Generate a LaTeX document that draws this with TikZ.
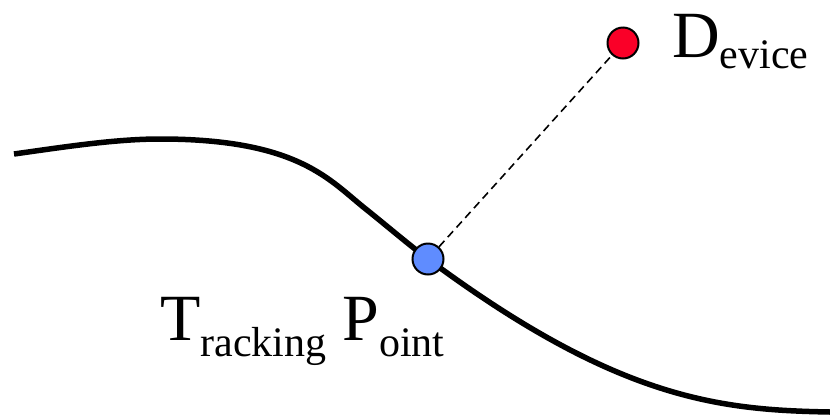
\documentclass[tikz,border=0pt]{standalone}
\usepackage{fontspec}
\setmainfont{Liberation Serif}
\definecolor{devred}{RGB}{250,0,40}
\definecolor{trkblue}{RGB}{95,140,255}
\newcommand{\mainfs}[1]{{\fontsize{66}{66}\selectfont #1}}
\newcommand{\subfs}[2]{\raisebox{-#1}{\fontsize{42}{42}\selectfont #2}}
\tikzset{
  dot/.style={circle, draw=black, line width=2pt, minimum size=31pt, inner sep=0pt},
  curveline/.style={line width=5.5pt},
  link/.style={line width=1.6pt, dash pattern=on 8pt off 5pt},
  lbl/.style={inner sep=0pt, anchor=base west}
}
\begin{document}
\begin{tikzpicture}[x=1pt,y=-1pt]
\useasboundingbox (0,0) rectangle (830,416);
\coordinate (c0) at (14,154);
\coordinate (c1) at (160,139);
\coordinate (c2) at (367,210);
\coordinate (tp) at (428,259);
\coordinate (c4) at (830,412);
\draw[curveline] (c0) .. controls (64,147) and (115,139) .. (c1)
  .. controls (300,139) and (330,181) .. (c2)
  .. controls (387,226) and (408,244) .. (tp)
  .. controls (618,400) and (720,410) .. (c4);
\node[dot, fill=trkblue] (trk) at (tp) {};
\node[dot, fill=devred] (dev) at (623,43) {};
\draw[link] (trk) -- (dev);
\node[lbl] (devlabel) at (672,57) {\mainfs{D}\subfs{11pt}{evice}};
\node[lbl] (trklabel) at (160,340) {\mainfs{T}\subfs{16pt}{racking}\hspace{16pt}\mainfs{P}\subfs{16pt}{oint}};
\end{tikzpicture}
\end{document}
